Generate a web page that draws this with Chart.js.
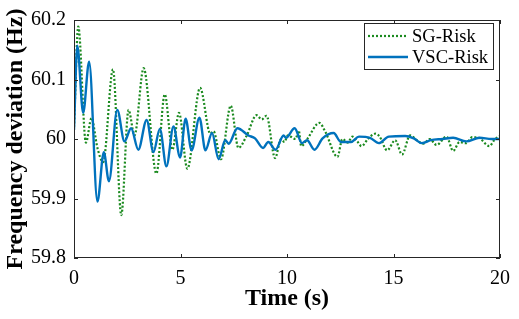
<!DOCTYPE html>
<html>
<head>
<meta charset="utf-8">
<script src="https://cdn.jsdelivr.net/npm/chart.js@4.4.0/dist/chart.umd.min.js"></script>
<style>
  html, body { margin: 0; padding: 0; background: #ffffff; }
  #wrap { width: 519px; height: 319px; }
</style>
</head>
<body>
<div id="wrap"><canvas id="freqChart" width="519" height="319"></canvas></div>
<script>
// values
const timeSG = [0, 0.2, 0.56, 0.82, 1.1, 1.37, 1.83, 2.22, 2.56, 2.84, 3.27, 3.87, 4.26, 4.62, 4.93,
  5.32, 5.92, 6.4, 6.55, 6.9, 7.36, 7.72, 8.1, 8.57, 8.81, 9.04, 9.44, 9.72, 9.88, 10.04, 10.4, 10.55,
  10.67, 10.95, 11.52, 11.8, 12.37, 12.6, 12.85, 13.07, 13.3, 13.5, 13.8, 14.15, 14.35, 14.7, 15.08,
  15.4, 15.78, 16.1, 16.4, 16.7, 17.02, 17.49, 17.8, 18.1, 18.4, 18.7, 19.0, 19.5, 19.75, 20];
const freqSG = [60.02, 60.189, 59.994, 60.035, 59.985, 59.961, 60.117, 59.872, 60.049, 60.006, 60.119,
  59.942, 60.075, 59.982, 60.044, 59.950, 60.086, 60.009, 60.013, 59.966, 60.056, 59.985, 60.005,
  60.040, 60.033, 60.039, 59.968, 60.000, 59.995, 60.006, 60.000, 60.014, 59.988, 60.000, 60.027,
  60.012, 59.970, 60.000, 59.994, 60.004, 59.996, 59.988, 60.000, 60.009, 60.004, 59.981, 59.998,
  59.974, 60.006, 59.998, 59.992, 60.000, 59.990, 60.004, 59.980, 59.995, 59.993, 60.003, 60.002,
  59.988, 59.999, 60.005];

const timeVSC = [0, 0.155, 0.43, 0.71, 1.1, 1.4, 1.64, 2.03, 2.37, 2.68, 3.02, 3.41, 3.73, 4.03, 4.34,
  4.67, 4.98, 5.24, 5.52, 5.89, 6.17, 6.48, 6.79, 7.1, 7.26, 7.67, 8.19, 8.5, 8.88, 9.12, 9.46, 9.84,
  9.95, 10.36, 10.7, 10.94, 11.29, 11.67, 12.19, 12.53, 13.0, 13.38, 13.9, 14.31, 14.78, 15.55, 15.95,
  16.33, 16.75, 17.3, 17.8, 18.42, 19.04, 19.6, 20];
const freqVSC = [60.015, 60.157, 60.044, 60.130, 59.895, 59.978, 59.929, 60.049, 59.996, 60.018,
  59.982, 60.032, 59.978, 60.017, 59.954, 60.021, 59.969, 60.034, 59.981, 60.036, 59.981, 60.010,
  59.966, 59.998, 59.992, 60.018, 60.006, 60.001, 59.985, 59.995, 59.982, 60.006, 60.002, 60.018,
  59.993, 59.998, 59.982, 60.001, 60.010, 59.995, 59.995, 60.004, 60.002, 59.993, 60.004, 60.005,
  60.001, 59.993, 59.998, 60.000, 60.002, 59.996, 60.002, 60.000, 60.000];

const xTicks = [0, 5, 10, 15, 20];
const yTicks = [59.8, 59.9, 60, 60.1, 60.2];
const seriesNames = ['SG-Risk', 'VSC-Risk'];

const sgColor = '#1b8a1f';
const vscColor = '#0072bd';
const serif = "'Liberation Serif', 'Times New Roman', serif";

const toPoints = (ts, fs) => ts.map((t, i) => ({ x: t, y: fs[i] }));

// box, inward ticks on all four sides, and the legend
const boxAndLegend = {
  id: 'boxAndLegend',
  afterDraw(chart) {
    const ctx = chart.ctx;
    const a = chart.chartArea;
    const xs = chart.scales.x, ys = chart.scales.y;
    ctx.save();
    ctx.strokeStyle = '#262626';
    ctx.lineWidth = 1;
    ctx.strokeRect(a.left + 0.5, a.top + 0.5, a.right - a.left - 1, a.bottom - a.top - 1);
    ctx.beginPath();
    xTicks.forEach(v => {
      const px = Math.round(xs.getPixelForValue(v)) + 0.5;
      ctx.moveTo(px, a.bottom); ctx.lineTo(px, a.bottom - 4);
      ctx.moveTo(px, a.top); ctx.lineTo(px, a.top + 4);
    });
    yTicks.forEach(v => {
      const py = Math.round(ys.getPixelForValue(v)) + 0.5;
      ctx.moveTo(a.left, py); ctx.lineTo(a.left + 4, py);
      ctx.moveTo(a.right, py); ctx.lineTo(a.right - 4, py);
    });
    ctx.stroke();

    // legend
    const lx = 364, ly = 23, lw = 129, lh = 46;
    ctx.fillStyle = '#ffffff';
    ctx.fillRect(lx, ly, lw, lh);
    ctx.strokeStyle = '#262626';
    ctx.strokeRect(lx + 0.5, ly + 0.5, lw, lh);
    const rows = [
      { name: seriesNames[0], color: sgColor, dash: [2, 2], width: 2.2, y: ly + 13 },
      { name: seriesNames[1], color: vscColor, dash: [], width: 2.4, y: ly + 34 }
    ];
    rows.forEach(r => {
      ctx.beginPath();
      ctx.setLineDash(r.dash);
      ctx.strokeStyle = r.color;
      ctx.lineWidth = r.width;
      ctx.moveTo(lx + 4, r.y); ctx.lineTo(lx + 44, r.y);
      ctx.stroke();
      ctx.setLineDash([]);
      ctx.fillStyle = '#000000';
      ctx.font = '18.5px ' + serif;
      ctx.textBaseline = 'middle';
      ctx.fillText(r.name, lx + 48, r.y + 1);
    });
    ctx.restore();
  }
};

new Chart(document.getElementById('freqChart'), {
  type: 'line',
  data: {
    datasets: [{
      label: seriesNames[1],
      data: toPoints(timeVSC, freqVSC),
      borderColor: vscColor,
      borderWidth: 2.4,
      pointRadius: 0,
      cubicInterpolationMode: 'monotone',
      order: 0
    }, {
      label: seriesNames[0],
      data: toPoints(timeSG, freqSG),
      borderColor: sgColor,
      borderWidth: 2.2,
      borderDash: [2, 2],
      pointRadius: 0,
      cubicInterpolationMode: 'monotone',
      order: 1
    }]
  },
  options: {
    responsive: false,
    animation: false,
    layout: { padding: { top: 10, right: 15, left: 0, bottom: 0 } },
    plugins: { legend: { display: false }, tooltip: { enabled: false } },
    scales: {
      x: {
        type: 'linear',
        min: 0, max: 20,
        afterBuildTicks: s => { s.ticks = xTicks.map(v => ({ value: v })); },
        afterFit: s => { s.height = 61; },
        grid: { display: false, drawTicks: false },
        border: { display: false },
        ticks: { color: '#000', padding: 9, maxRotation: 0, font: { family: serif, size: 20 } },
        title: { display: true, text: 'Time (s)', color: '#000', padding: { top: 0, bottom: 6 },
          font: { family: serif, size: 24, weight: 'bold' } }
      },
      y: {
        type: 'linear',
        min: 59.8, max: 60.2,
        afterBuildTicks: s => { s.ticks = yTicks.map(v => ({ value: v })); },
        afterFit: s => { s.width = 74; },
        grid: { display: false, drawTicks: false },
        border: { display: false },
        ticks: { color: '#000', padding: 8, font: { family: serif, size: 20 },
          callback: v => String(Number(v.toFixed(1))) },
        title: { display: true, text: 'Frequency deviation (Hz)', color: '#000', padding: { top: 1, bottom: 0 },
          font: { family: serif, size: 24, weight: 'bold' } }
      }
    }
  },
  plugins: [boxAndLegend]
});
</script>
</body>
</html>
